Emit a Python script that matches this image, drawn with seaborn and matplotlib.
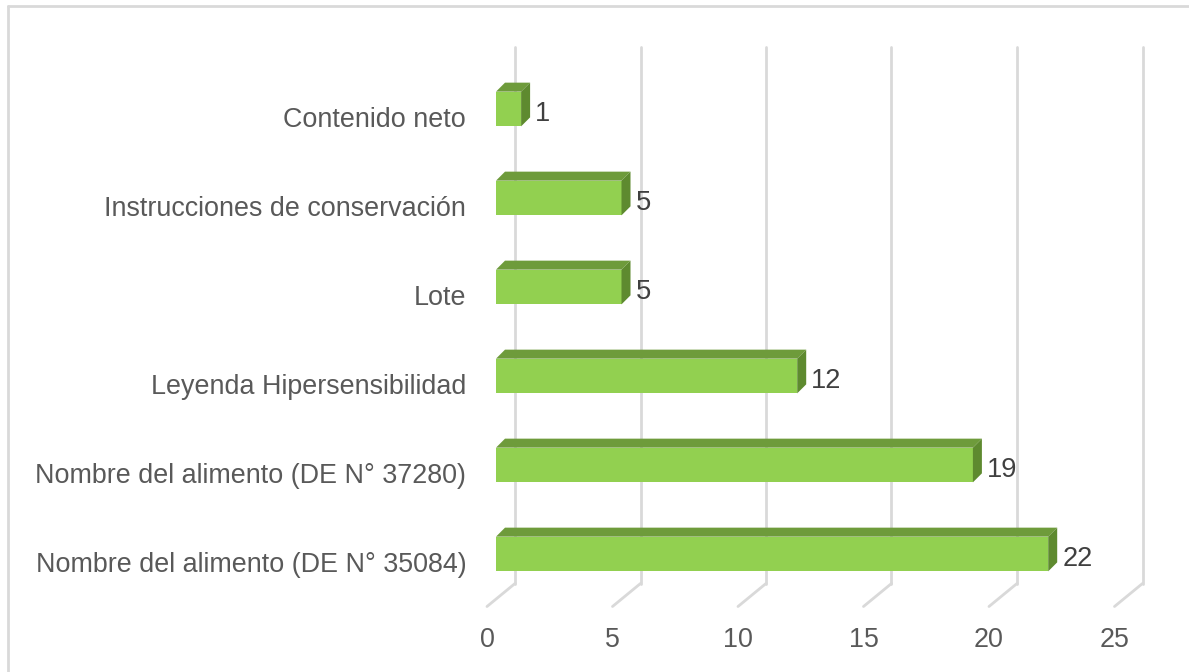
"""Barras horizontales con efecto 3D (estilo Excel) hechas con seaborn."""
import matplotlib
matplotlib.use("Agg")
import matplotlib.pyplot as plt
import numpy as np
import pandas as pd
import seaborn as sns
from matplotlib.lines import Line2D
from matplotlib.patches import Polygon
from matplotlib.transforms import ScaledTranslation

# Datos
categorias = [
    "Contenido neto",
    "Instrucciones de conservación",
    "Lote",
    "Leyenda Hipersensibilidad",
    "Nombre del alimento (DE N° 37280)",
    "Nombre del alimento (DE N° 35084)",
]
valores = [1, 5, 5, 12, 19, 22]
ticks_x = [0, 5, 10, 15, 20, 25]

VERDE = "#92D050"
VERDE_TOP = "#6E9B3B"
VERDE_LADO = "#5E8A2F"
GRIS_GRID = "#D9D9D9"
GRIS_TXT = "#595959"

sns.set_theme(style="white")
plt.rcParams["font.family"] = ["Liberation Sans", "DejaVu Sans"]

DPI = 100
fig = plt.figure(figsize=(11.89, 6.72), dpi=DPI)
W, H = 1189, 672
# ejes = plano frontal del "piso" 3D
ax = fig.add_axes([487 / W, (H - 606.5) / H, 627.5 / W, 534 / H])

df = pd.DataFrame({"cat": categorias, "val": valores})
sns.barplot(data=df, x="val", y="cat", orient="h", color=VERDE,
            width=0.39, saturation=1, ax=ax, zorder=3)
ax.set_xlim(0, 25)
ax.set_ylim(5.5, -0.5)
for s in ax.spines.values():
    s.set_visible(False)
ax.set_xlabel("")
ax.set_ylabel("")
ax.set_xticks(ticks_x)
ax.tick_params(axis="both", length=0, labelsize=19.4, labelcolor=GRIS_TXT)
ax.tick_params(axis="x", pad=15)
ax.tick_params(axis="y", pad=15)


def shift(x, y, dx, dy):
    """Desplaza un punto en datos por (dx, dy) pixeles."""
    px = ax.transData.transform((x, y))
    return ax.transData.inverted().transform((px[0] + dx, px[1] + dy))


# pared del fondo y piso (lineas de cuadricula)
BX, BY = 28, 23
for v in ticks_x:
    fondo_abajo = shift(v, 5.5, BX, BY)
    fondo_arriba = shift(v, -0.53, BX, BY)
    ax.add_line(Line2D([fondo_abajo[0], fondo_arriba[0]],
                       [fondo_abajo[1], fondo_arriba[1]],
                       color=GRIS_GRID, lw=2, zorder=1, clip_on=False))
    ax.add_line(Line2D([v, fondo_abajo[0]], [5.5, fondo_abajo[1]],
                       color=GRIS_GRID, lw=2, zorder=1, clip_on=False))

# barras desplazadas hacia el fondo + caras superior y lateral
DX, DY = 9, 8      # posicion de la cara frontal respecto al plano frontal
PX, PY = 9, 9      # profundidad de la barra
off = ScaledTranslation(DX / DPI, DY / DPI, fig.dpi_scale_trans)
for p in ax.patches:
    x0, y0 = p.get_x(), p.get_y()
    w, h = p.get_width(), p.get_height()
    # en eje invertido y0 es el borde superior en pantalla
    top_y = min(y0, y0 + h)
    bot_y = max(y0, y0 + h)
    a = shift(x0, top_y, DX, DY)
    b = shift(x0 + w, top_y, DX, DY)
    c = shift(x0 + w, bot_y, DX, DY)
    p.set_transform(ax.transData + off)
    p.set_edgecolor("none")
    tapa = [a, b, shift(*b, PX, PY), shift(*a, PX, PY)]
    lado = [b, c, shift(*c, PX, PY), shift(*b, PX, PY)]
    ax.add_patch(Polygon(tapa, closed=True, facecolor=VERDE_TOP,
                         edgecolor="none", zorder=3, clip_on=False))
    ax.add_patch(Polygon(lado, closed=True, facecolor=VERDE_LADO,
                         edgecolor="none", zorder=3, clip_on=False))

# etiquetas de valor
for i, v in enumerate(valores):
    ax.annotate(str(v), xy=(v, i), xytext=(23 * 72 / DPI, 3 * 72 / DPI),
                textcoords="offset points", ha="left", va="center",
                fontsize=19.6, color="#404040", zorder=4)

# borde del area del grafico
fig.add_artist(Line2D([8 / W, 1], [1 - 6 / H, 1 - 6 / H],
                      transform=fig.transFigure, color=GRIS_GRID, lw=2))
fig.add_artist(Line2D([8 / W, 8 / W], [0, 1 - 6 / H],
                      transform=fig.transFigure, color=GRIS_GRID, lw=2))

fig.savefig("out.png", dpi=DPI)
